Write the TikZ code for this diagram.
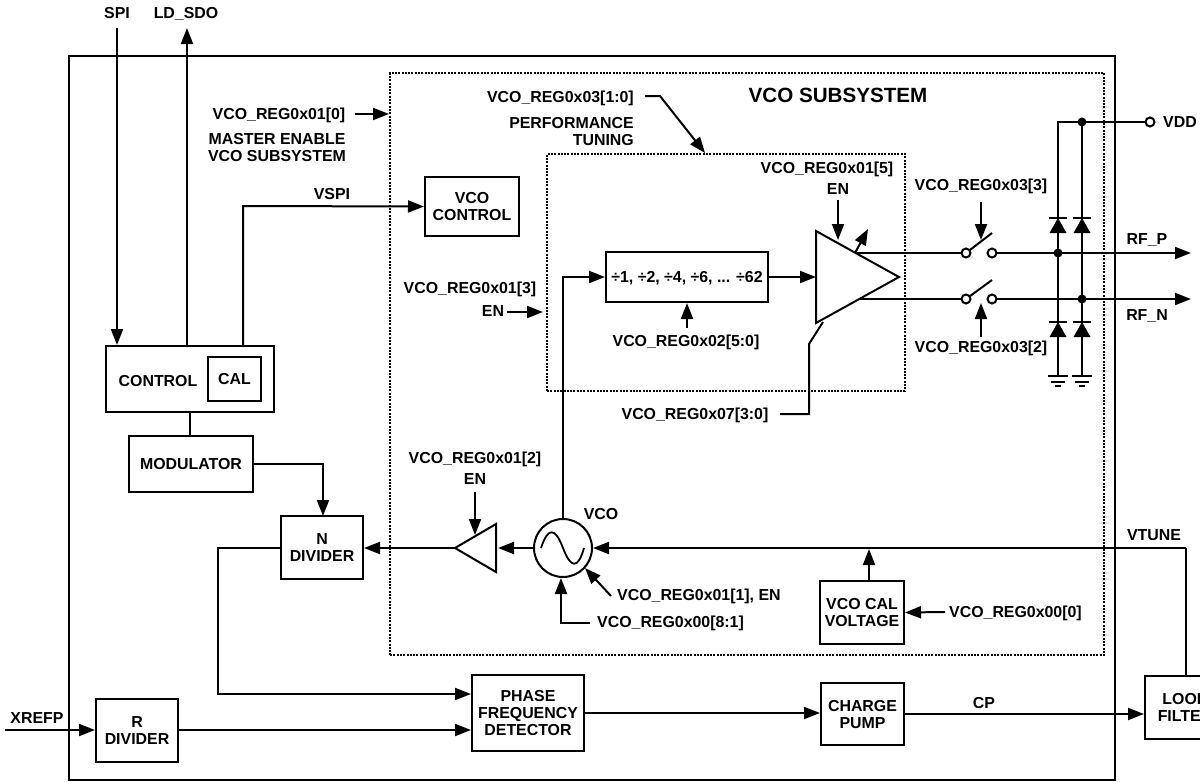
\documentclass[tikz,border=0pt]{standalone}
\usepackage{fontspec}
\setmainfont{Liberation Sans}
\usetikzlibrary{arrows.meta,calc}
\tikzset{
  wire/.style={line width=2pt,line join=miter},
  arr/.style={wire,-{Triangle[length=16pt,width=12pt]}},
  blk/.style={draw,line width=2pt,fill=white,inner sep=0pt,align=center},
  lab/.style={inner sep=0pt,align=center,text depth=0pt,font=\fontsize{15.9}{17}\selectfont\bfseries},
  dotbox/.style={draw,line width=2.6pt,dash pattern=on 2pt off 1.3pt},
  dotn/.style={circle,fill,inner sep=0pt,minimum size=9pt},
  term/.style={circle,draw,line width=2pt,fill=white,inner sep=0pt,minimum size=9pt},
}
\newcommand{\bx}[5]{\node[blk,minimum width=#4-#2,minimum height=#5-#3] (#1) at ({(#2+#4)/2},{(#3+#5)/2}) {};}
\newcommand{\diodeat}[2]{%
  \fill ({#1-8.5},{#2+15}) -- ({#1+8.5},{#2+15}) -- (#1,#2) -- cycle;
  \draw[line width=1.6pt] ({#1-9},#2) -- ({#1+9},#2);}
\newcommand{\gnd}[2]{%
  \draw[line width=1.6pt] ({#1-10},#2) -- ({#1+10},#2);
  \draw[line width=1.6pt] ({#1-7},{#2+6}) -- ({#1+7},{#2+6});
  \draw[line width=1.6pt] ({#1-3},{#2+10}) -- ({#1+3},{#2+10});}
\begin{document}
\begin{tikzpicture}[x=1pt,y=-1pt]
\useasboundingbox (0,0) rectangle (1200,782);
% frames
\node[blk,fill=none,minimum width=1046,minimum height=724] (chip) at (592,418) {};
\node[dotbox,inner sep=0pt,minimum width=714,minimum height=582] (sub) at (747,364) {};
\node[dotbox,inner sep=0pt,minimum width=358,minimum height=237] (core) at (726,272.5) {};
% blocks
\bx{ctrlv}{425}{177}{519}{236}
\bx{ctrl}{106}{346}{274}{412}
\bx{cal}{208}{357}{261}{401}
\bx{mod}{129}{436}{253}{492}
\bx{ndiv}{281}{516}{363}{579}
\bx{rdiv}{96}{699}{178}{762}
\bx{pfd}{472}{675}{584}{751}
\bx{pump}{821}{683}{904}{745}
\bx{loop}{1145}{676}{1227}{739}
\bx{cvolt}{820}{581}{904}{644}
\bx{div}{606}{252}{768}{302}
% named points
\coordinate (spi) at (117,28);
\coordinate (ldsdo) at (187,28);
\coordinate (xin) at (5,730);
\coordinate (vddT) at (1150,122);
\coordinate (rfpE) at (1191,253);
\coordinate (rfnE) at (1191,299);
\coordinate (bufTip) at (455,548);
\coordinate (bufB) at (498,548);
\coordinate (ampIn) at (816,277);
\coordinate (divTurn) at (563,277);
\coordinate (calUp) at (869,549);
\coordinate (calLow) at (869,581);
\coordinate (divArr) at (687,328);
\node[circle,draw,line width=2pt,inner sep=0pt,minimum size=58pt,fill=white] (vco) at (563,548) {};
% connectors
\draw[arr] (spi) -- (spi |- ctrl.north);
\draw[arr] (ldsdo |- ctrl.north) -- (ldsdo);
\draw[arr] (243,346) -- (243,206) -- (ctrlv.west);
\draw[wire] (190,412) -- (190,436);
\draw[arr] (mod.east) -| (323,516);
\draw[arr] (bufTip) -- (ndiv.east |- bufTip);
\draw[arr] (ndiv.west |- bufTip) -- (218,548) -- (218,694) -- ($(pfd.west)+(0,-19)$);
\draw[arr] (xin) -- (rdiv.west |- xin);
\draw[arr] (rdiv.east |- xin) -- (pfd.west |- xin);
\draw[arr] (pfd.east) -- (pump.west |- pfd.east);
\draw[arr] (pump.east) -- (loop.west |- pump.east);
\draw[wire] (1186,676) -- (1186,548);
\draw[arr] (1186,548) -- (vco.east);
\draw[arr] (calLow) -- (calUp);
\draw[arr] (vco.west) -- (bufB);
\draw[arr] (vco.north) -- (divTurn) -- (div.west |- divTurn);
\draw[arr] (div.east) -- (ampIn);
\draw[arr] (divArr) -- (divArr |- div.south);
\draw[arr] (355,114) -- (389,114);
\draw[arr] (507,312) -- (543,312);
\draw[arr] (645,96) -- (660,96) -- (705,153);
\draw[arr] (945,612) -- (cvolt.east);
\draw[arr] (475,492) -- (475,535);
\draw[arr] (611,596) -- (585,568);
\draw[arr] (590,623) -- (561,623) -- (561,578);
% buffer
\draw[wire,fill=white] (bufTip) -- (496,524) -- (496,572) -- cycle;
% sine
\draw[line width=1.8pt] (541,548) .. controls (548,527) and (555,527) .. (563,548) .. controls (571,569) and (578,569) .. (584,548);
% amp outputs
\draw[wire] (855,253) -- (962,253);
\draw[wire] (855,299) -- (962,299);
\draw[arr] (996,253) -- (rfpE);
\draw[arr] (996,299) -- (rfnE);
% amp
\draw[wire,fill=white] (816,231) -- (899,277) -- (816,323) -- cycle;
\draw[arr] (838,200) -- (838,240);
\draw[arr] (855,253) -- (868,229);
\draw[wire] (780,414) -- (809,414) -- (809,344) -- (823,322);
% switches
\draw[wire] (966,253) -- (992,233);
\draw[wire] (966,299) -- (992,280);
\node[term] (s1a) at (966,253) {};
\node[term] (s1b) at (992,253) {};
\node[term] (s2a) at (966,299) {};
\node[term] (s2b) at (992,299) {};
\draw[arr] (981,202) -- (981,240);
\draw[arr] (981,337) -- (981,303);
% diodes, VDD, ground
\draw[wire] (1058,376) -- (1058,122) -- (vddT);
\draw[wire] (1082,376) -- (1082,122);
\node[term] (vddn) at (vddT) {};
\node[dotn] (d1) at (1082,122) {};
\node[dotn] (d2) at (1058,253) {};
\node[dotn] (d3) at (1082,299) {};
\diodeat{1058}{218}\diodeat{1082}{218}\diodeat{1058}{322}\diodeat{1082}{322}
\gnd{1058}{376}\gnd{1082}{376}
% labels
\tikzset{every node/.append style={lab}}
\node (t1) at (117,13) {SPI};
\node (t2) at (186,13) {LD\_SDO};
\node (t3) at (279,114) {VCO\_REG0x01[0]};
\node (t4) at (277,147) {MASTER ENABLE\\VCO SUBSYSTEM};
\node[anchor=east] (t5) at (634,97) {VCO\_REG0x03[1:0]};
\node[anchor=east,align=right] (t6) at (634,131) {PERFORMANCE\\TUNING};
\node[font=\fontsize{20.6}{22}\selectfont\bfseries] (t7) at (838,95) {VCO SUBSYSTEM};
\node (t8) at (332,194) {VSPI};
\node at (ctrlv) {VCO\\CONTROL};
\node (t9) at (827,168) {VCO\_REG0x01[5]};
\node (t10) at (838,189) {EN};
\node (t11) at (981,185) {VCO\_REG0x03[3]};
\node (t12) at (981,347) {VCO\_REG0x03[2]};
\node (t13) at (470,288) {VCO\_REG0x01[3]};
\node (t14) at (493,311) {EN};
\node at (div) {÷1, ÷2, ÷4, ÷6, ... ÷62};
\node (t15) at (686,341) {VCO\_REG0x02[5:0]};
\node (t16) at (695,414) {VCO\_REG0x07[3:0]};
\node (t17) at (475,458) {VCO\_REG0x01[2]};
\node (t18) at (475,479) {EN};
\node (t19) at (601,514) {VCO};
\node[anchor=west] (t20) at (617,595) {VCO\_REG0x01[1], EN};
\node[anchor=west] (t21) at (597,622) {VCO\_REG0x00[8:1]};
\node[anchor=west] (t22) at (949,612) {VCO\_REG0x00[0]};
\node (t23) at (158,381) {CONTROL};
\node at (cal) {CAL};
\node at (mod) {MODULATOR};
\node at (ndiv) {N\\DIVIDER};
\node at (rdiv) {R\\DIVIDER};
\node at (pfd) {PHASE\\FREQUENCY\\DETECTOR};
\node at (pump) {CHARGE\\PUMP};
\node at (cvolt) {VCO CAL\\VOLTAGE};
\node at (1185,707) {LOOP\\FILTER};
\node (t24) at (1154,535) {VTUNE};
\node (t25) at (984,703) {CP};
\node (t26) at (37,718) {XREFP};
\node (t27) at (1147,239) {RF\_P};
\node (t28) at (1147,315) {RF\_N};
\node[anchor=west] (t29) at (1163,122) {VDD};
\end{tikzpicture}
\end{document}
